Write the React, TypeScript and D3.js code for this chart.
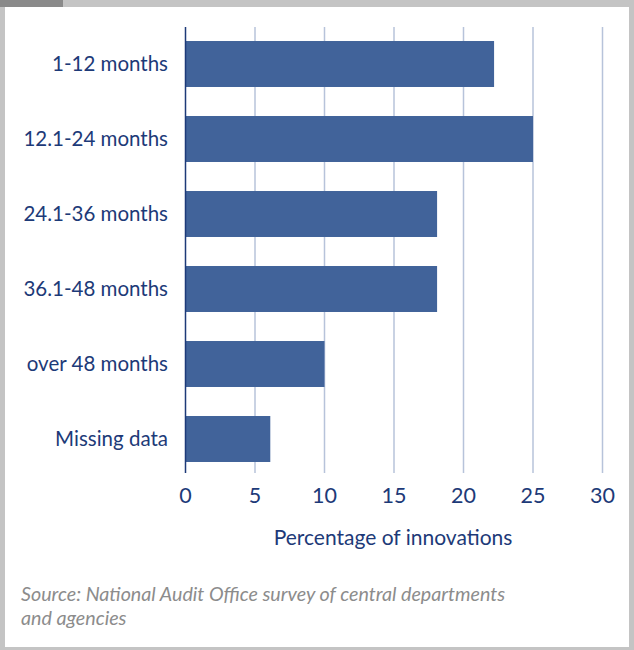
import React from "react";
import * as d3 from "d3";

const categories = ["1-12 months", "12.1-24 months", "24.1-36 months", "36.1-48 months", "over 48 months", "Missing data"];
const values = [22.2, 25, 18.1, 18.1, 10, 6.1];
const xTicks = [0, 5, 10, 15, 20, 25, 30];
const xTitle = "Percentage of innovations";
const sourceLines = ["Source: National Audit Office survey of central departments", "and agencies"];

const W = 634;
const H = 650;
const textColor = "#1d3a78";
const barColor = "#41639a";
const gridColor = "#b7c3da";
const font = "Lato, 'Open Sans', sans-serif";

export default function App() {
  const x = d3.scaleLinear().domain([0, 30]).range([185.5, 602.5]);
  const y = d3
    .scaleBand<string>()
    .domain(categories)
    .range([26.5, 476.5])
    .paddingInner(0.387)
    .paddingOuter(0.1935);
  const gridTop = 27;
  const gridBottom = 473;

  return (
    <svg width={W} height={H} style={{ position: "absolute", left: 0, top: 0, display: "block" }}>
      <rect x={0} y={0} width={W} height={H} fill="#c4c4c4" />
      <rect x={5} y={7} width={W - 10} height={H - 10} fill="#ffffff" />
      <rect x={0} y={0} width={63} height={7} fill="#8a8a8a" />
      {xTicks.slice(1).map((t) => (
        <line key={t} x1={x(t)} x2={x(t)} y1={gridTop} y2={gridBottom} stroke={gridColor} strokeWidth={1.5} />
      ))}
      {categories.map((c, i) => (
        <rect key={c} x={x(0)} y={y(c)!} width={x(values[i]) - x(0)} height={y.bandwidth()} fill={barColor} />
      ))}
      <line x1={x(0)} x2={x(0)} y1={gridTop} y2={gridBottom} stroke={textColor} strokeWidth={1.5} />
      {categories.map((c) => (
        <text
          key={c}
          x={168}
          y={y(c)! + y.bandwidth() / 2 - 1}
          textAnchor="end"
          dominantBaseline="central"
          fontFamily={font}
          fontSize={20.5}
          fill={textColor}
        >
          {c}
        </text>
      ))}
      {xTicks.map((t) => (
        <text key={t} x={x(t)} y={495} textAnchor="middle" dominantBaseline="central" fontFamily={font} fontSize={21.5} fill={textColor}>
          {t}
        </text>
      ))}
      <text x={393} y={536} textAnchor="middle" dominantBaseline="central" fontFamily={font} fontSize={21} fill={textColor}>
        {xTitle}
      </text>
      {sourceLines.map((s, i) => (
        <text key={i} x={21} y={593 + i * 24} dominantBaseline="central" fontFamily={font} fontStyle="italic" fontSize={19.7} fill="#8c8c8c">
          {s}
        </text>
      ))}
    </svg>
  );
}
